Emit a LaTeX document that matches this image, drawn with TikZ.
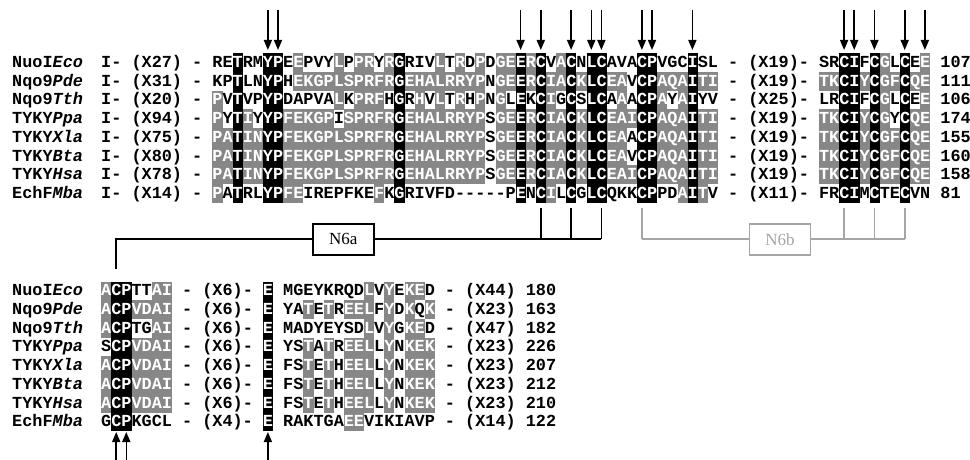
\documentclass[tikz,border=0pt]{standalone}
\usepackage{fontspec}
\usetikzlibrary{arrows.meta}
\newfontfamily\seqf{Liberation Mono}[Ligatures=TeXOff]
\newfontfamily\labf{Liberation Serif}
\definecolor{shg}{RGB}{135,135,135}
\definecolor{brg}{RGB}{165,165,165}
\newcommand\bk[1]{{\fboxsep0pt\colorbox{black}{\rule[-4.65pt]{0pt}{18.9pt}\textcolor{white}{#1}}}}
\newcommand\gy[1]{{\fboxsep0pt\colorbox{shg}{\rule[-4.65pt]{0pt}{18.9pt}\textcolor{white}{#1}}}}
\tikzset{
  seq/.style={anchor=base west, inner sep=0pt, font=\seqf\bfseries\fontsize{16.85}{18.7}\selectfont},
  arr/.style={line width=1.6pt, -{Triangle[length=10pt,width=8pt]}},
  conn/.style={line width=1.7pt, black},
  gconn/.style={line width=1.7pt, brg},
  lab/.style={draw, line width=1.7pt, fill=white, minimum width=61pt, minimum height=31pt, inner sep=0pt, font=\labf\fontsize{17}{17}\selectfont}
}
\begin{document}
\begin{tikzpicture}[x=1pt,y=-1pt]
\useasboundingbox (0,0) rectangle (970,460);
% ---------- top block ----------
\node[seq] (n0) at (12,67.5) {NuoI\textit{Eco}};
\node[seq] (n1) at (12,86.2) {Nqo9\textit{Pde}};
\node[seq] (n2) at (12,104.9) {Nqo9\textit{Tth}};
\node[seq] (n3) at (12,123.6) {TYKY\textit{Ppa}};
\node[seq] (n4) at (12,142.3) {TYKY\textit{Xla}};
\node[seq] (n5) at (12,161.0) {TYKY\textit{Bta}};
\node[seq] (n6) at (12,179.7) {TYKY\textit{Hsa}};
\node[seq] (n7) at (12,198.4) {EchF\textit{Mba}};
\node[seq] (s0) at (101,67.5) {I- (X27) - RE\bk{T}RM\bk{YP}E\gy{E}PVY\gy{L}P\gy{PR}Y\gy{R}\bk{G}RIV\gy{L}T\gy{R}D\gy{P}D\gy{GE}\bk{E}\gy{R}\bk{C}V\gy{A}\bk{C}N\bk{LC}AVA\bk{CP}VGC\bk{I}SL - (X19)- SR\bk{CI}F\bk{C}\gy{G}L\bk{C}E\gy{E} 107};
\node[seq] (s1) at (101,86.2) {I- (X31) - KP\bk{T}LN\bk{YP}H\gy{EKGPLSPRFR}\bk{G}\gy{EHALRRYP}N\gy{GE}\bk{E}\gy{R}\bk{C}\gy{IA}\bk{C}\gy{K}\bk{LC}\gy{EA}V\bk{CP}\gy{AQA}\bk{I}\gy{TI} - (X19)- \gy{TK}\bk{CI}\gy{Y}\bk{C}\gy{GF}\bk{C}\gy{QE} 111};
\node[seq] (s2) at (101,104.9) {I- (X20) - \gy{P}V\bk{T}VP\bk{YP}DAPVA\gy{L}K\gy{PRF}H\bk{G}R\gy{H}V\gy{L}T\gy{R}H\gy{P}N\gy{G}L\bk{E}K\bk{C}\gy{I}G\bk{C}S\bk{LC}A\gy{A}A\bk{CP}\gy{A}Y\gy{A}\bk{I}YV - (X25)- LR\bk{CI}F\bk{C}\gy{G}L\bk{C}E\gy{E} 106};
\node[seq] (s3) at (101,123.6) {I- (X94) - \gy{P}Y\bk{T}\gy{I}Y\bk{YP}\gy{FEKGP}I\gy{SPRFR}\bk{G}\gy{EHALRRYP}S\gy{GE}\bk{E}\gy{R}\bk{C}\gy{IA}\bk{C}\gy{K}\bk{LC}\gy{EAI}\bk{CP}\gy{AQA}\bk{I}\gy{TI} - (X19)- \gy{TK}\bk{CI}\gy{Y}\bk{C}\gy{G}Y\bk{C}\gy{QE} 174};
\node[seq] (s4) at (101,142.3) {I- (X75) - \gy{PA}\bk{T}\gy{IN}\bk{YP}\gy{FEKGPLSPRFR}\bk{G}\gy{EHALRRYP}S\gy{GE}\bk{E}\gy{R}\bk{C}\gy{IA}\bk{C}\gy{K}\bk{LC}\gy{EA}A\bk{CP}\gy{AQA}\bk{I}\gy{TI} - (X19)- \gy{TK}\bk{CI}\gy{Y}\bk{C}\gy{GF}\bk{C}\gy{QE} 155};
\node[seq] (s5) at (101,161.0) {I- (X80) - \gy{PA}\bk{T}\gy{IN}\bk{YP}\gy{FEKGPLSPRFR}\bk{G}\gy{EHALRRYP}S\gy{GE}\bk{E}\gy{R}\bk{C}\gy{IA}\bk{C}\gy{K}\bk{LC}\gy{EA}V\bk{CP}\gy{AQA}\bk{I}\gy{TI} - (X19)- \gy{TK}\bk{CI}\gy{Y}\bk{C}\gy{GF}\bk{C}\gy{QE} 160};
\node[seq] (s6) at (101,179.7) {I- (X78) - \gy{PA}\bk{T}\gy{IN}\bk{YP}\gy{FEKGPLSPRFR}\bk{G}\gy{EHALRRYP}S\gy{GE}\bk{E}\gy{R}\bk{C}\gy{IA}\bk{C}\gy{K}\bk{LC}\gy{EAI}\bk{CP}\gy{AQA}\bk{I}\gy{TI} - (X19)- \gy{TK}\bk{CI}\gy{Y}\bk{C}\gy{GF}\bk{C}\gy{QE} 158};
\node[seq] (s7) at (101,198.4) {I- (X14) - \gy{P}A\bk{T}RL\bk{YP}\gy{FE}IREPFKE\gy{F}K\bk{G}RIVFD-----P\bk{E}N\bk{C}\gy{I}L\bk{C}G\bk{LC}QKK\bk{CP}PD\gy{A}\bk{I}\gy{T}V - (X11)- FR\bk{CI}M\bk{C}TE\bk{C}VN 81};
% ---------- bottom block ----------
\node[seq] (m0) at (12,295.8) {NuoI\textit{Eco}};
\node[seq] (m1) at (12,314.5) {Nqo9\textit{Pde}};
\node[seq] (m2) at (12,333.2) {Nqo9\textit{Tth}};
\node[seq] (m3) at (12,351.9) {TYKY\textit{Ppa}};
\node[seq] (m4) at (12,370.6) {TYKY\textit{Xla}};
\node[seq] (m5) at (12,389.3) {TYKY\textit{Bta}};
\node[seq] (m6) at (12,408.0) {TYKY\textit{Hsa}};
\node[seq] (m7) at (12,426.7) {EchF\textit{Mba}};
\node[seq] (b0) at (101,295.8) {\gy{A}\bk{CP}TT\gy{AI} - (X6)- \bk{E} MGEYKRQD\gy{L}V\gy{Y}E\gy{KE}D - (X44) 180};
\node[seq] (b1) at (101,314.5) {\gy{A}\bk{CP}\gy{VDAI} - (X6)- \bk{E} YA\gy{T}E\gy{T}R\gy{EEL}F\gy{Y}D\gy{K}Q\gy{K} - (X23) 163};
\node[seq] (b2) at (101,333.2) {\gy{A}\bk{CP}TG\gy{AI} - (X6)- \bk{E} MADYEYSD\gy{L}V\gy{Y}G\gy{KE}D - (X47) 182};
\node[seq] (b3) at (101,351.9) {S\bk{CP}\gy{VDAI} - (X6)- \bk{E} YS\gy{T}A\gy{T}R\gy{EEL}L\gy{Y}N\gy{KEK} - (X23) 226};
\node[seq] (b4) at (101,370.6) {\gy{A}\bk{CP}\gy{VDAI} - (X6)- \bk{E} FS\gy{T}E\gy{T}H\gy{EEL}L\gy{Y}N\gy{KEK} - (X23) 207};
\node[seq] (b5) at (101,389.3) {\gy{A}\bk{CP}\gy{VDAI} - (X6)- \bk{E} FS\gy{T}E\gy{T}H\gy{EEL}L\gy{Y}N\gy{KEK} - (X23) 212};
\node[seq] (b6) at (101,408.0) {\gy{A}\bk{CP}\gy{VDAI} - (X6)- \bk{E} FS\gy{T}E\gy{T}H\gy{EEL}L\gy{Y}N\gy{KEK} - (X23) 210};
\node[seq] (b7) at (101,426.7) {G\bk{CP}KGCL - (X4)- \bk{E} RAKTGA\gy{EE}VIKIAVP - (X14) 122};
% ---------- arrows ----------
\foreach \x [count=\k] in {267.9,278.0,520.6,540.8,571.1,591.3,601.4,641.9,652.0,692.4,844.1,854.2,874.4,904.7,924.9}{
  \coordinate (ta\k) at (\x,10);
  \coordinate (tb\k) at (\x,50);
  \draw[arr] (ta\k) -- (tb\k);
}
\foreach \x [count=\k] in {116.2,126.3,267.9}{
  \coordinate (ba\k) at (\x,460);
  \coordinate (bb\k) at (\x,432);
  \draw[arr] (ba\k) -- (bb\k);
}
% ---------- N6a ----------
\node[lab] (n6a) at (343.3,239.3) {N6a};
\coordinate (pa0) at (116.2,269);
\foreach \x [count=\k] in {540.8,571.1,601.4}{
  \coordinate (pt\k) at (\x,208);
  \coordinate (pb\k) at (\x,239.3);
  \draw[conn] (pt\k) -- (pb\k);
}
\draw[conn] (pa0) |- (n6a.west);
\draw[conn] (n6a.east) -- (pb3);
% ---------- N6b ----------
\node[lab, draw=brg, text=brg] (n6b) at (780,239.3) {N6b};
\foreach \x [count=\k] in {641.9,844.1,874.4,904.7}{
  \coordinate (qt\k) at (\x,208);
  \coordinate (qb\k) at (\x,239.3);
  \draw[gconn] (qt\k) -- (qb\k);
}
\draw[gconn] (qb1) -- (n6b.west);
\draw[gconn] (n6b.east) -- (qb4);
\end{tikzpicture}
\end{document}
